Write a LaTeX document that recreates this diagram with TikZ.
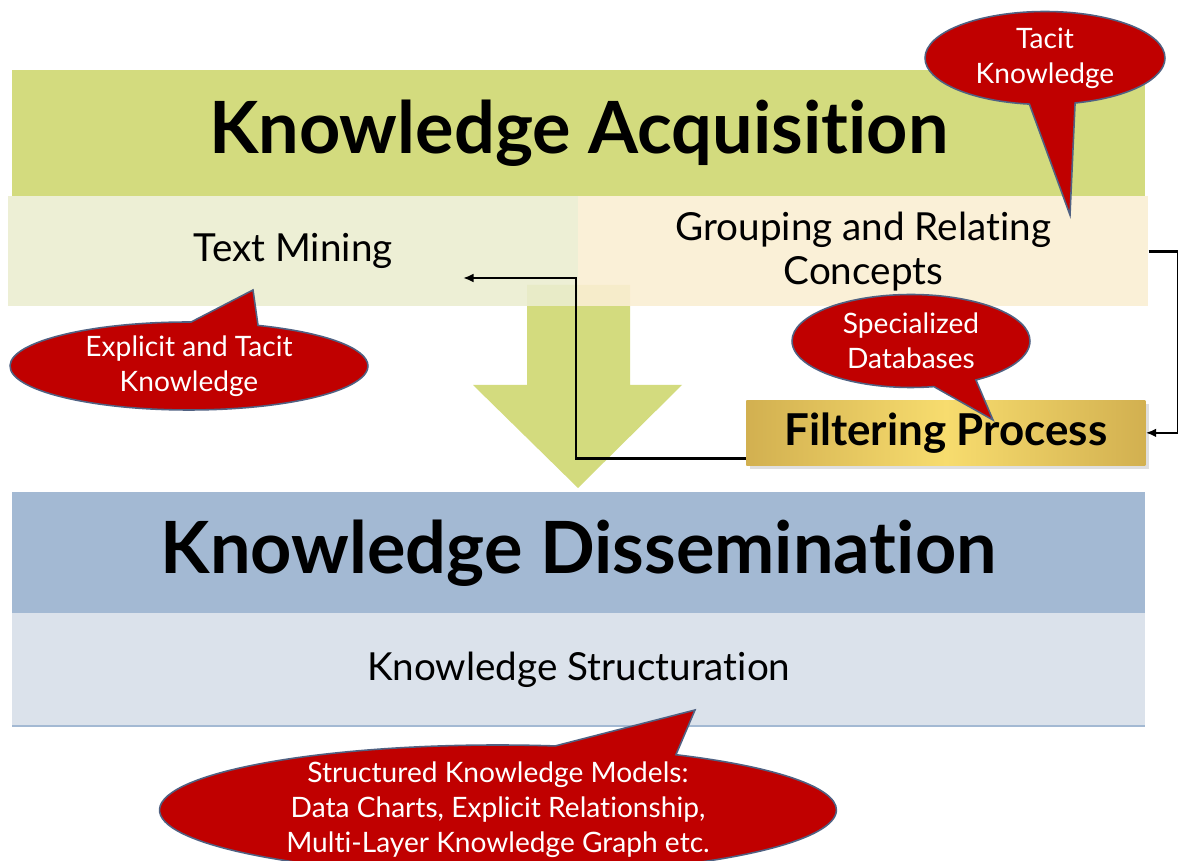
\documentclass[tikz,border=0pt]{standalone}
\usepackage{fontspec}
\setmainfont{Lato}[Ligatures=NoCommon]
\usetikzlibrary{shapes.callouts,shadows,arrows.meta}

\definecolor{acqgreen}{RGB}{211,219,126}
\definecolor{minegreen}{RGB}{235,237,208}
\definecolor{groupcream}{RGB}{250,238,211}
\definecolor{disblue}{RGB}{163,185,211}
\definecolor{structblue}{RGB}{219,226,235}
\definecolor{bubblered}{RGB}{192,0,0}
\definecolor{bubbleline}{RGB}{80,97,130}
\definecolor{golddark}{RGB}{210,176,80}
\definecolor{goldlight}{RGB}{247,220,110}

\begin{document}
\begin{tikzpicture}[x=0.02cm,y=-0.02cm,
	band/.style={shape=rectangle,inner sep=0pt,anchor=north west,align=center},
	bubble/.style={ellipse callout,fill=bubblered,draw=bubbleline,line width=0.9pt,inner sep=0pt,callout pointer arc=22},
	bubbletext/.style={text=white,align=center,font=\fontsize{16}{20}\selectfont},
	link/.style={line width=1.4pt,-{Latex[length=6pt,width=5pt]}}]
	\useasboundingbox (0,0) rectangle (1178,861);
	\clip (0,0) rectangle (1178,861);

	% acquisition
	\node[band,fill=acqgreen,minimum width=22.66cm,minimum height=2.52cm,font=\fontsize{41}{44}\bfseries] (acq) at (12,70) {Knowledge Acquisition};
	\fill[acqgreen] (527,285) -- (630,285) -- (630,385) -- (682,385) -- (578,488) -- (473,385) -- (527,385) -- cycle;
	\node[band,fill=minegreen,fill opacity=0.9,text opacity=1,minimum width=11.4cm,minimum height=2.2cm,font=\fontsize{22}{25}\selectfont] (mine) at (8,196) {Text Mining};
	\node[band,fill=groupcream,fill opacity=0.9,text opacity=1,minimum width=11.4cm,minimum height=2.2cm,font=\fontsize{22}{25}\selectfont] (grp) at (578,196) {Grouping and Relating\\Concepts};

	% dissemination
	\node[band,fill=disblue,minimum width=22.66cm,minimum height=2.42cm,font=\fontsize{41}{44}\bfseries] (dis) at (12,492) {Knowledge Dissemination};
	\node[band,fill=structblue,minimum width=22.66cm,minimum height=2.24cm,font=\fontsize{22}{25}\selectfont] (struct) at (12,613) {Knowledge Structuration};
	\draw[disblue,line width=1pt] (struct.south west) -- (struct.south east);

	% filtering
	\node[band,left color=golddark,right color=golddark,middle color=goldlight,drop shadow={opacity=0.25,shadow xshift=2pt,shadow yshift=-2pt},minimum width=7.98cm,minimum height=1.3cm,font=\fontsize{25}{28}\bfseries] (filt) at (746,400) {Filtering Process};

	\coordinate (tmin) at (463,278);
	\draw[link] (grp.east) -- ++(30,0) |- (filt.east);
	\draw[link] ([yshift=4pt]filt.south west) -- ++(-170,0) |- (tmin);

	% callouts
	\node[bubble,minimum width=4.8cm,minimum height=1.86cm,callout absolute pointer={(1070,215)},label={[bubbletext]center:Tacit\\Knowledge}] (tacit) at (1045,58) {};
	\node[bubble,minimum width=7.16cm,minimum height=1.76cm,callout absolute pointer={(253,290)},label={[bubbletext]center:Explicit and Tacit\\Knowledge}] (expl) at (189,366) {};
	\node[bubble,minimum width=4.76cm,minimum height=1.86cm,callout absolute pointer={(993,420)},label={[bubbletext]center:Specialized\\Databases}] (spec) at (911,341) {};
	\node[bubble,minimum width=13.54cm,minimum height=2.6cm,callout absolute pointer={(695,710)},label={[bubbletext]center:Structured Knowledge Models:\\Data Charts, Explicit Relationship,\\Multi-Layer Knowledge Graph etc.}] (models) at (498,810) {};

\end{tikzpicture}
\end{document}
